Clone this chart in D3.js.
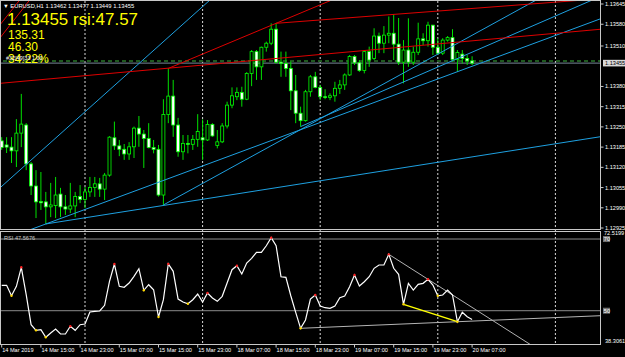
<!DOCTYPE html>
<html lang="en">
<head>
<meta charset="UTF-8">
<title>EURUSD,H1 with RSI</title>
<script src="https://d3js.org/d3.v7.min.js"></script>
<style>
  body { margin: 0; background: #000; }
  svg { display: block; }
  text { font-family: "Liberation Sans", Arial, sans-serif; }
</style>
</head>
<body>
<div id="chart"></div>
<script>
// H1 bars from 14 Mar 2019 07:00 to 20 Mar 2019 07:00, index = bar number
var opens = [1.13205,1.13192,1.13185,1.13173,1.13230,1.13256,1.13131,1.13060,1.13010,1.13009,
  1.12993,1.12997,1.13034,1.12993,1.12986,1.12996,1.13026,1.13017,1.13041,1.13055,
  1.13067,1.13050,1.13095,1.13215,1.13189,1.13178,1.13163,1.13186,1.13246,1.13227,
  1.13213,1.13184,1.13178,1.13031,1.13290,1.13349,1.13256,1.13170,1.13197,1.13194,
  1.13210,1.13215,1.13208,1.13258,1.13190,1.13202,1.13253,1.13320,1.13347,1.13361,
  1.13339,1.13422,1.13492,1.13443,1.13506,1.13519,1.13564,1.13458,1.13454,1.13438,
  1.13366,1.13294,1.13270,1.13363,1.13411,1.13377,1.13347,1.13345,1.13350,1.13374,
  1.13385,1.13417,1.13476,1.13456,1.13431,1.13492,1.13470,1.13542,1.13519,1.13545,
  1.13551,1.13516,1.13458,1.13497,1.13458,1.13490,1.13533,1.13527,1.13577,1.13506,
  1.13487,1.13529,1.13537,1.13467,1.13484,1.13470,1.13462];
var highs = [1.13217,1.13217,1.13217,1.13275,1.13356,1.13262,1.13137,1.13111,1.13105,1.13041,
  1.13070,1.13089,1.13054,1.13031,1.13070,1.13041,1.13063,1.13057,1.13089,1.13089,
  1.13086,1.13102,1.13220,1.13267,1.13208,1.13195,1.13201,1.13251,1.13285,1.13240,
  1.13262,1.13208,1.13192,1.13339,1.13438,1.13401,1.13279,1.13224,1.13224,1.13224,
  1.13291,1.13274,1.13272,1.13262,1.13240,1.13262,1.13331,1.13377,1.13377,1.13379,
  1.13426,1.13497,1.13497,1.13508,1.13524,1.13583,1.13583,1.13492,1.13492,1.13460,
  1.13417,1.13315,1.13369,1.13417,1.13427,1.13385,1.13371,1.13358,1.13395,1.13401,
  1.13422,1.13481,1.13481,1.13465,1.13497,1.13508,1.13567,1.13553,1.13574,1.13605,
  1.13612,1.13600,1.13529,1.13599,1.13508,1.13585,1.13551,1.13588,1.13578,1.13535,
  1.13535,1.13542,1.13564,1.13497,1.13497,1.13481,1.13477];
var lows = [1.13176,1.13166,1.13134,1.13121,1.13185,1.13111,1.13031,1.12957,1.12983,1.12938,
  1.12960,1.12957,1.12960,1.12967,1.12973,1.12960,1.13005,1.12989,1.13025,1.13025,
  1.13025,1.13015,1.13090,1.13176,1.13156,1.13144,1.13144,1.13150,1.13186,1.13118,
  1.13181,1.13165,1.13026,1.12999,1.13262,1.13218,1.13154,1.13144,1.13165,1.13176,
  1.13186,1.13144,1.13205,1.13218,1.13181,1.13198,1.13245,1.13310,1.13336,1.13315,
  1.13336,1.13381,1.13401,1.13401,1.13492,1.13513,1.13454,1.13411,1.13411,1.13304,
  1.13262,1.13251,1.13267,1.13347,1.13374,1.13336,1.13339,1.13336,1.13331,1.13356,
  1.13369,1.13414,1.13449,1.13427,1.13422,1.13443,1.13465,1.13487,1.13487,1.13519,
  1.13465,1.13449,1.13390,1.13443,1.13449,1.13481,1.13513,1.13508,1.13481,1.13481,
  1.13481,1.13524,1.13460,1.13427,1.13454,1.13449,1.13449];
var closes = [1.13184,1.13185,1.13173,1.13230,1.13259,1.13131,1.13060,1.13009,1.13006,1.12993,
  1.12999,1.13031,1.12993,1.12986,1.12996,1.13026,1.13017,1.13041,1.13055,1.13067,
  1.13050,1.13095,1.13217,1.13189,1.13178,1.13163,1.13186,1.13246,1.13227,1.13213,
  1.13184,1.13178,1.13031,1.13290,1.13349,1.13256,1.13170,1.13197,1.13194,1.13210,
  1.13235,1.13208,1.13258,1.13221,1.13202,1.13253,1.13320,1.13350,1.13361,1.13339,
  1.13422,1.13492,1.13443,1.13506,1.13519,1.13564,1.13458,1.13454,1.13438,1.13366,
  1.13294,1.13270,1.13363,1.13411,1.13377,1.13347,1.13345,1.13350,1.13374,1.13385,
  1.13417,1.13476,1.13456,1.13431,1.13492,1.13465,1.13542,1.13519,1.13545,1.13551,
  1.13516,1.13458,1.13497,1.13458,1.13490,1.13533,1.13527,1.13577,1.13506,1.13487,
  1.13529,1.13537,1.13467,1.13489,1.13470,1.13462,1.13455];

// RSI(14) per bar
var rsi = [57.09,57.09,54.18,56.81,62.11,54.46,46.09,44.53,44.70,42.58,
  43.78,44.90,43.50,43.50,45.65,44.53,46.09,46.29,49.64,49.83,
  49.92,51.51,58.20,63.03,56.81,56.53,57.73,59.60,61.72,55.69,
  57.25,55.86,48.24,53.07,63.03,60.99,53.26,52.43,51.95,53.07,
  54.66,52.43,54.94,53.54,52.62,54.02,57.73,61.44,62.55,60.24,
  63.30,64.62,66.29,66.29,68.13,70.36,68.13,59.48,59.32,54.18,
  49.55,45.09,47.41,53.26,54.38,51.31,50.84,50.67,51.31,53.63,
  54.10,56.69,59.96,56.89,58.09,59.48,61.83,62.75,62.75,65.73,
  61.83,60.15,51.79,57.64,55.77,57.36,57.64,58.76,57.17,54.18,
  54.38,55.77,54.38,46.93,49.55,48.30,47.57];
var rsiPeaks = [4,14,23,34,42,48,55,64,72,79,87];
var rsiTroughs = [2,7,9,29,32,38,61,82,89,93];

// time axis labels (bar index -> text) and day separators
var timeTicks = [0,8,16,24,32,40,48,56,64,72,80,88,96];
var timeLabels = ["14 Mar 2019","14 Mar 15:00","14 Mar 23:00","15 Mar 07:00","15 Mar 15:00",
  "15 Mar 23:00","18 Mar 07:00","18 Mar 15:00","18 Mar 23:00","19 Mar 07:00",
  "19 Mar 15:00","19 Mar 23:00","20 Mar 07:00"];
var daySeparators = [17,41,65,89,113];

var priceTicks = [1.13645,1.13580,1.13510,1.13380,1.13315,1.13250,1.13185,1.13120,1.13055,1.12990,1.12925];
var bid = 1.13455;
var rsiLevels = [70,50];
var rsiMax = "72.5199", rsiMin = "38.3061";

// drawn trend lines: anchors as (bar, price)
var trendLines = [
  {i1:-0.35, p1:1.13054, i2:42.3, p2:1.13655, kind:"blue", left:true, right:true},
  {i1:33, p1:1.12999, i2:98.6, p2:1.13567, kind:"blue", right:true},
  {i1:61, p1:1.13251, i2:98.6, p2:1.13508, kind:"blue", right:true},
  {i1:9, p1:1.12938, i2:98.6, p2:1.13460, kind:"blue", left:true, right:true},
  {i1:9, p1:1.12938, i2:98.6, p2:1.13160, kind:"blue", right:true},
  {i1:-0.35, p1:1.13390, i2:122.3, p2:1.13564, kind:"red", left:true, right:true},
  {i1:34, p1:1.13438, i2:56, p2:1.13583, kind:"red", right:true},
  {i1:56, p1:1.13583, i2:113.9, p2:1.13652, kind:"red", right:true},
  {i1:-0.35, p1:1.13578, i2:3.33, p2:1.13651, kind:"red", left:true, right:true},
  {i1:-0.35, p1:1.13536, i2:5.37, p2:1.13651, kind:"red", left:true, right:true}
];
// lines on the RSI window: anchors as (bar, rsi)
var rsiLines = [
  {i1:79, p1:65.73, i2:87, p2:58.76, kind:"white", right:true},
  {i1:61, p1:45.09, i2:93, p2:46.93, kind:"gray", right:true},
  {i1:82, p1:51.79, i2:93, p2:46.93, kind:"yellow"}
];

var colors = {blue:"#1ea0e0", red:"#dd0000", white:"#e0e0e0", gray:"#b4b4b4", yellow:"#ffff00"};
var widths = {blue:1, red:1, white:0.8, gray:1, yellow:1.4};

var W = 625, H = 357;
var plotRight = 600.5;

var svg = d3.select("#chart").append("svg")
  .attr("width", W).attr("height", H)
  .style("background", "#000");

// scales
var x = d3.scaleLinear().domain([0, 96]).range([1.7, 1.7 + 96 * 4.9]);
var y = d3.scaleLinear().domain([1.129218, 1.136579]).range([229, 0]);
var ry = d3.scaleLinear().domain([40.71, 72.52]).range([344, 230]);

// clip areas for the two windows
var defs = svg.append("defs");
defs.append("clipPath").attr("id", "clipMain")
  .append("rect").attr("x", 1).attr("y", 1).attr("width", 599.5).attr("height", 228);
defs.append("clipPath").attr("id", "clipRsi")
  .append("rect").attr("x", 1).attr("y", 232).attr("width", 599.5).attr("height", 112);

// day separators across both windows
svg.append("g").selectAll("line").data(daySeparators).enter().append("line")
  .attr("x1", d => x(d)).attr("x2", d => x(d))
  .attr("y1", 1).attr("y2", 344)
  .attr("stroke", "#d8d8d8").attr("stroke-width", 1)
  .attr("stroke-dasharray", "2,2");

var main = svg.append("g").attr("clip-path", "url(#clipMain)");

// bid line with the dark green dashes on top of it
main.append("line")
  .attr("x1", 0).attr("x2", plotRight)
  .attr("y1", y(bid)).attr("y2", y(bid))
  .attr("stroke", "#778899").attr("stroke-width", 1);
main.append("line")
  .attr("x1", 3).attr("x2", plotRight)
  .attr("y1", y(bid) - 2).attr("y2", y(bid) - 2)
  .attr("stroke", "#1f5a1f").attr("stroke-width", 2)
  .attr("stroke-dasharray", "4,3");

// candles
var bars = d3.range(opens.length);
var candle = main.append("g").selectAll("g").data(bars).enter().append("g");
candle.append("line")
  .attr("x1", d => x(d)).attr("x2", d => x(d))
  .attr("y1", d => y(highs[d])).attr("y2", d => y(lows[d]))
  .attr("stroke", "#00e000").attr("stroke-width", 1);
candle.append("rect")
  .attr("x", d => x(d) - 1.5)
  .attr("width", 3)
  .attr("y", d => y(Math.max(opens[d], closes[d])))
  .attr("height", d => Math.max(0.8, Math.abs(y(opens[d]) - y(closes[d]))))
  .attr("fill", d => closes[d] < opens[d] ? "#ffffff" : "#000000")
  .attr("stroke", "#00ff00").attr("stroke-width", 0.8);

// helper: pixel end points of a trend line, optionally extended to the window edges
function linePoints(d, sy) {
  var ax = x(d.i1), ay = sy(d.p1), bx = x(d.i2), by = sy(d.p2);
  var m = (by - ay) / (bx - ax);
  var sx = d.left ? -10 : ax, ex = d.right ? plotRight + 10 : bx;
  return [sx, ay + m * (sx - ax), ex, ay + m * (ex - ax)];
}

main.append("g").selectAll("line").data(trendLines).enter().append("line")
  .each(function(d) {
    var p = linePoints(d, y);
    d3.select(this).attr("x1", p[0]).attr("y1", p[1]).attr("x2", p[2]).attr("y2", p[3]);
  })
  .attr("stroke", d => colors[d.kind]).attr("stroke-width", d => widths[d.kind]);

// RSI window
var sub = svg.append("g").attr("clip-path", "url(#clipRsi)");
sub.selectAll(".lvl").data(rsiLevels).enter().append("line")
  .attr("class", "lvl")
  .attr("x1", 0).attr("x2", plotRight)
  .attr("y1", d => ry(d)).attr("y2", d => ry(d))
  .attr("stroke", "#8c8c8c").attr("stroke-width", 1);

sub.append("g").selectAll("line").data(rsiLines).enter().append("line")
  .each(function(d) {
    var p = linePoints(d, ry);
    d3.select(this).attr("x1", p[0]).attr("y1", p[1]).attr("x2", p[2]).attr("y2", p[3]);
  })
  .attr("stroke", d => colors[d.kind]).attr("stroke-width", d => widths[d.kind]);

var rsiLine = d3.line().x((d, i) => x(i)).y(d => ry(d));
sub.append("path").datum(rsi)
  .attr("d", rsiLine)
  .attr("fill", "none").attr("stroke", "#ffffff").attr("stroke-width", 1.2);

sub.selectAll(".pk").data(rsiPeaks).enter().append("circle")
  .attr("class", "pk").attr("cx", d => x(d)).attr("cy", d => ry(rsi[d]))
  .attr("r", 1.2).attr("fill", "#ff2020");
sub.selectAll(".tr").data(rsiTroughs).enter().append("circle")
  .attr("class", "tr").attr("cx", d => x(d)).attr("cy", d => ry(rsi[d]))
  .attr("r", 1.2).attr("fill", "#ffd800");

// window frames
svg.append("rect").attr("x", 0.5).attr("y", 0.5).attr("width", plotRight - 0.5).attr("height", 229)
  .attr("fill", "none").attr("stroke", "#c8c8c8").attr("stroke-width", 1);
svg.append("rect").attr("x", 0.5).attr("y", 231.5).attr("width", plotRight - 0.5).attr("height", 113)
  .attr("fill", "none").attr("stroke", "#c8c8c8").attr("stroke-width", 1);

// price axis
var fmt = d3.format(".5f");
var pAxis = svg.append("g").attr("font-size", 5.6).attr("fill", "#ffffff");
pAxis.selectAll("line").data(priceTicks).enter().append("line")
  .attr("x1", plotRight).attr("x2", plotRight + 3)
  .attr("y1", d => y(d)).attr("y2", d => y(d))
  .attr("stroke", "#c8c8c8");
pAxis.selectAll("text").data(priceTicks).enter().append("text")
  .attr("x", 605).attr("y", d => y(d) + 2)
  .text(d => fmt(d));
pAxis.append("rect")
  .attr("x", 603).attr("y", y(bid) - 3.3).attr("width", 22).attr("height", 6.6)
  .attr("fill", "#d8d8d8");
pAxis.append("text")
  .attr("x", 605).attr("y", y(bid) + 2).attr("fill", "#000")
  .text(fmt(bid));

// RSI axis
var rAxis = svg.append("g").attr("font-size", 5.6).attr("fill", "#ffffff");
rAxis.append("text").attr("x", 604).attr("y", ry(72.52) + 4.5).text(rsiMax);
rsiLevels.forEach(function(v) {
  rAxis.append("rect").attr("x", 603).attr("y", ry(v) - 3).attr("width", 7).attr("height", 6)
    .attr("fill", "#6e6e6e");
  rAxis.append("text").attr("x", 603.8).attr("y", ry(v) + 2).text(v);
});
rAxis.append("text").attr("x", 605).attr("y", 343).text(rsiMin);

// time axis
var tAxis = svg.append("g").attr("font-size", 5.6).attr("fill", "#ffffff");
tAxis.selectAll("line").data(timeTicks).enter().append("line")
  .attr("x1", d => x(d)).attr("x2", d => x(d))
  .attr("y1", 344.5).attr("y2", 347.5)
  .attr("stroke", "#c8c8c8");
tAxis.selectAll("text").data(timeTicks).enter().append("text")
  .attr("x", d => x(d) + 0.5).attr("y", 352)
  .text((d, i) => timeLabels[i]);

// header and indicator texts
svg.append("text").attr("x", 3).attr("y", 8).attr("font-size", 5.8).attr("fill", "#ffffff")
  .text("\u25BC EURUSD,H1  " + [opens[96], highs[96], lows[96], closes[96]].map(fmt).join(" "));
svg.append("text").attr("x", 4).attr("y", 239.5).attr("font-size", 5.6).attr("fill", "#c8c8c8")
  .text("RSI 47.5676");

var yellow = svg.append("g").attr("fill", "#ffff00");
yellow.append("text").attr("x", 7).attr("y", 24.5).attr("font-size", 16.5)
  .attr("textLength", 131).attr("lengthAdjust", "spacingAndGlyphs")
  .text(fmt(bid) + " rsi:" + rsi[96].toFixed(2));
yellow.append("text").attr("x", 8).attr("y", 38.5).attr("font-size", 12).text("135.31");
yellow.append("text").attr("x", 8).attr("y", 50.7).attr("font-size", 12).text("46.30");
yellow.append("text").attr("x", 8).attr("y", 63).attr("font-size", 12).text("34.22%");
svg.append("text").attr("x", 6).attr("y", 59.5).attr("font-size", 5.5).attr("fill", "#ffffff")
  .text("#32[49]33 1.00");
</script>
</body>
</html>
